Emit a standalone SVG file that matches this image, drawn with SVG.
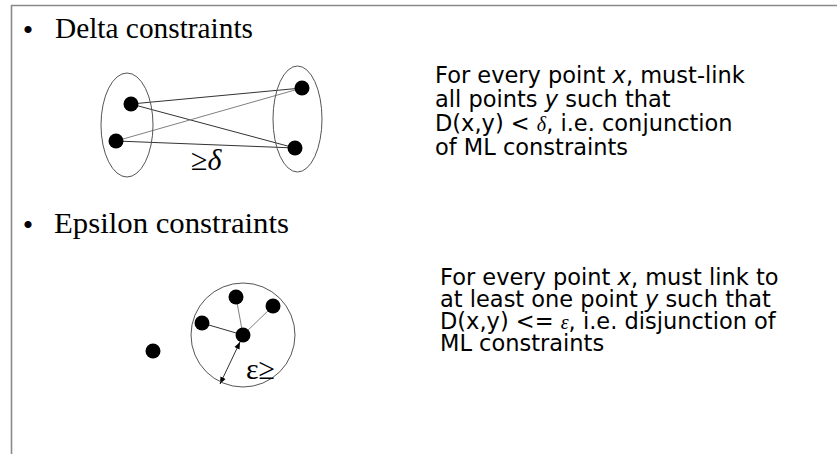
<svg xmlns="http://www.w3.org/2000/svg" width="837" height="454" viewBox="0 0 837 454">
<style>
.frame{fill:none;stroke:#8a8a8a;stroke-width:1.6}
.head{font-family:"Liberation Serif","Times New Roman",serif;font-size:29.5px;fill:#000}
.bullet{font-family:"Liberation Serif","Times New Roman",serif;font-size:30px;fill:#000}
.body{font-family:"DejaVu Sans",Verdana,sans-serif;font-size:22.5px;fill:#000}
.var{font-style:italic}
.sym{font-family:"Liberation Serif","Times New Roman",serif;font-style:italic}
.lab{font-family:"Liberation Serif","Times New Roman",serif;font-size:30px;fill:#000}
.dot{fill:#000}
.ring{fill:none;stroke:#555;stroke-width:1}
.ln{fill:none;stroke:#333;stroke-width:1}
.lg{fill:none;stroke:#808080;stroke-width:1}
</style>
<defs>
<marker id="ah" viewBox="0 0 10 10" refX="10" refY="5" markerWidth="7" markerHeight="7" markerUnits="userSpaceOnUse" orient="auto-start-reverse">
<path d="M0,1 L10,5 L0,9 z" fill="#000"/>
</marker>
</defs>
<rect width="837" height="454" fill="#fff"/>
<path class="frame" d="M11.5,454 V5.5 H837"/>

<g id="delta-heading">
<text class="bullet" x="28" y="40" text-anchor="middle">•</text>
<text class="head" x="55" y="38" textLength="198" lengthAdjust="spacingAndGlyphs">Delta constraints</text>
</g>

<g id="connectors">
<line class="ln" x1="131" y1="104" x2="302" y2="88"/>
<line class="ln" x1="131" y1="104" x2="295" y2="148"/>
<line class="lg" x1="116" y1="141" x2="302" y2="88"/>
<line class="ln" x1="116" y1="141" x2="295" y2="148"/>
<line class="lg" x1="243" y1="335" x2="236" y2="297"/>
<line class="lg" x1="243" y1="335" x2="273" y2="306"/>
<line class="ln" x1="243" y1="335" x2="202" y2="323"/>
<line class="ln" x1="240" y1="342" x2="220" y2="384" marker-start="url(#ah)" marker-end="url(#ah)"/>
</g>

<g id="delta-left-cluster">
<ellipse class="ring" cx="127" cy="125" rx="26" ry="52"/>
<circle class="dot" cx="131" cy="104" r="7.5"/>
<circle class="dot" cx="116" cy="141" r="7.5"/>
</g>
<g id="delta-right-cluster">
<ellipse class="ring" cx="297.5" cy="119" rx="24.5" ry="53"/>
<circle class="dot" cx="302" cy="88" r="7.5"/>
<circle class="dot" cx="295" cy="148" r="7.5"/>
</g>
<g id="delta-label">
<text class="lab" x="191" y="170">≥<tspan font-style="italic">δ</tspan></text>
</g>

<g id="delta-text">
<text class="body" x="435" y="83">For every point <tspan class="var">x</tspan>, must-link</text>
<text class="body" x="435" y="107">all points <tspan class="var">y</tspan> such that</text>
<text class="body" x="435" y="131">D(x,y) &lt; <tspan class="sym" font-size="20">δ</tspan>, i.e. conjunction</text>
<text class="body" x="435" y="155">of ML constraints</text>
</g>

<g id="epsilon-heading">
<text class="bullet" x="28" y="235" text-anchor="middle">•</text>
<text class="head" x="54" y="233" textLength="235" lengthAdjust="spacingAndGlyphs">Epsilon constraints</text>
</g>

<g id="epsilon-outlier">
<circle class="dot" cx="153" cy="351" r="7.5"/>
</g>
<g id="epsilon-cluster">
<circle class="ring" cx="243" cy="335" r="52"/>
<circle class="dot" cx="236" cy="297" r="7.5"/>
<circle class="dot" cx="273" cy="306" r="7.5"/>
<circle class="dot" cx="202" cy="323" r="7.5"/>
<circle class="dot" cx="243" cy="335" r="7.5"/>
</g>
<g id="epsilon-label">
<text class="lab" x="246" y="379" font-size="26">ε≥</text>
</g>

<g id="epsilon-text">
<text class="body" x="440" y="285">For every point <tspan class="var">x</tspan>, must link to</text>
<text class="body" x="440" y="307">at least one point <tspan class="var">y</tspan> such that</text>
<text class="body" x="440" y="329">D(x,y) &lt;= <tspan class="sym" font-size="20">ε</tspan>, i.e. disjunction of</text>
<text class="body" x="440" y="351">ML constraints</text>
</g>
</svg>
